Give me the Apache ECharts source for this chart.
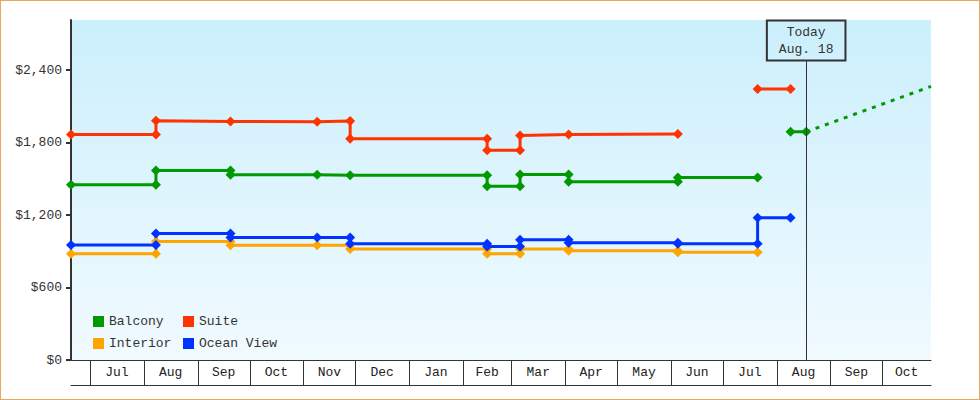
<!DOCTYPE html>
<html>
<head>
<meta charset="utf-8">
<script src="https://cdn.jsdelivr.net/npm/echarts@6/dist/echarts.min.js"></script>
<style>
html, body { margin: 0; padding: 0; background: #ffffff; }
#chart { position: absolute; left: 0; top: 0; width: 980px; height: 400px; }
#frame { position: absolute; left: 0; top: 0; width: 980px; height: 400px; box-sizing: border-box; border: 1px solid #E8A860; pointer-events: none; z-index: 10; }
</style>
</head>
<body>
<div id="chart"></div>
<div id="frame"></div>
<script>
// ---- data ----
const xStart = '2022-06-20';
const xEnd = '2023-10-29';
const today = '2023-08-18';
const todayLabel = 'Today\nAug. 18';

const monthStarts = ['2022-07-01','2022-08-01','2022-09-01','2022-10-01','2022-11-01','2022-12-01',
  '2023-01-01','2023-02-01','2023-03-01','2023-04-01','2023-05-01','2023-06-01','2023-07-01',
  '2023-08-01','2023-09-01','2023-10-01'];
const monthLabels = ['Jul','Aug','Sep','Oct','Nov','Dec','Jan','Feb','Mar','Apr','May','Jun','Jul','Aug','Sep','Oct'];

const yTicks = [0, 600, 1200, 1800, 2400];
const yMax = 2815;

const balcony = [
  ['2022-06-20',1450],['2022-08-08',1450],['2022-08-08',1568],['2022-09-20',1568],['2022-09-20',1533],
  ['2022-11-09',1533],['2022-11-28',1530],['2023-02-15',1530],['2023-02-15',1438],['2023-03-06',1438],
  ['2023-03-06',1535],['2023-04-03',1535],['2023-04-03',1475],['2023-06-05',1475],['2023-06-05',1510],
  ['2023-07-21',1510],['2023-07-30','-'],['2023-08-09',1889],['2023-08-18',1889]
];
const balconyForecast = [['2023-08-18',1889],['2023-10-29',2265]];
const suite = [
  ['2022-06-20',1868],['2022-08-08',1868],['2022-08-08',1980],['2022-09-20',1975],['2022-11-09',1972],
  ['2022-11-28',1978],['2022-11-28',1832],['2023-02-15',1832],['2023-02-15',1736],['2023-03-06',1736],
  ['2023-03-06',1858],['2023-04-03',1868],['2023-06-05',1872],['2023-07-01','-'],['2023-07-21',2244],
  ['2023-08-09',2244]
];
const interior = [
  ['2022-06-20',879],['2022-08-08',879],['2022-08-08',981],['2022-09-20',981],['2022-09-20',950],
  ['2022-11-09',950],['2022-11-28',950],['2022-11-28',920],['2023-02-15',920],['2023-02-15',879],
  ['2023-03-06',879],['2023-03-06',920],['2023-04-03',920],['2023-04-03',904],['2023-06-05',904],
  ['2023-06-05',892],['2023-07-21',892]
];
const oceanView = [
  ['2022-06-20',953],['2022-08-08',953],['2022-08-08',1047],['2022-09-20',1047],['2022-09-20',1014],
  ['2022-11-09',1014],['2022-11-28',1014],['2022-11-28',962],['2023-02-15',962],['2023-02-15',939],
  ['2023-03-06',939],['2023-03-06',995],['2023-04-03',995],['2023-04-03',970],['2023-06-05',970],
  ['2023-06-05',962],['2023-07-21',962],['2023-07-21',1177],['2023-08-09',1177]
];

// ---- helpers ----
function ts(s) { const p = s.split('-').map(Number); return new Date(p[0], p[1] - 1, p[2]).getTime(); }
function toPts(arr) { return arr.map(d => [ts(d[0]), d[1]]); }

const FONT = '"Liberation Mono", "DejaVu Sans Mono", monospace';
const AXIS = '#333333';
const colors = { Balcony: '#009900', Suite: '#FF3300', Interior: '#FFA500', 'Ocean View': '#0033FF' };

const monthCells = monthStarts.map((m, i) => [ts(m), i + 1 < monthStarts.length ? ts(monthStarts[i + 1]) : ts(xEnd)]);
const todayBoxValue = 2480; // data height where the "Today" box sits

function lineSeries(name, data) {
  return {
    name: name, type: 'line', data: toPts(data),
    xAxisIndex: 0, yAxisIndex: 0,
    symbol: 'diamond', symbolSize: 10, showSymbol: true, showAllSymbol: true,
    connectNulls: false,
    lineStyle: { color: colors[name], width: 3 },
    itemStyle: { color: colors[name] },
    emphasis: { disabled: true }
  };
}

const chart = echarts.init(document.getElementById('chart'), null, { renderer: 'svg' });
chart.setOption({
  animation: false,
  backgroundColor: 'transparent',
  grid: [
    { left: 71, right: 49, top: 20, height: 340, show: true, borderWidth: 0,
      backgroundColor: new echarts.graphic.LinearGradient(0, 0, 0, 1, [
        { offset: 0, color: '#CBEFFC' }, { offset: 1, color: '#F1FAFF' }]) },
    { left: 71, right: 49, top: 360, height: 25 }
  ],
  xAxis: [
    { type: 'time', gridIndex: 0, min: ts(xStart), max: ts(xEnd),
      axisLine: { show: true, onZero: false, lineStyle: { color: AXIS, width: 1 } },
      axisTick: { show: false }, axisLabel: { show: false }, splitLine: { show: false } },
    { type: 'time', gridIndex: 1, min: ts(xStart), max: ts(xEnd), position: 'bottom',
      axisLine: { show: true, onZero: false, lineStyle: { color: AXIS, width: 1 } },
      axisTick: { show: false }, axisLabel: { show: false }, splitLine: { show: false } }
  ],
  yAxis: [
    { type: 'value', gridIndex: 0, min: 0, max: yMax,
      axisLine: { show: true, lineStyle: { color: AXIS, width: 2 } },
      axisTick: { show: true, length: 5, customValues: yTicks, lineStyle: { color: AXIS, width: 2 } },
      axisLabel: { show: true, customValues: yTicks, margin: 9, color: '#333', fontFamily: FONT, fontSize: 13,
        formatter: v => '$' + Number(v).toLocaleString('en-US') },
      splitLine: { show: false } },
    { type: 'value', gridIndex: 1, min: 0, max: 1, show: false }
  ],
  legend: [
    { data: ['Balcony', 'Interior'], orient: 'vertical', left: 93, top: 315, itemGap: 9,
      itemWidth: 11, itemHeight: 11, icon: 'rect', padding: 0,
      textStyle: { fontFamily: FONT, fontSize: 13, color: '#333' }, selectedMode: false },
    { data: ['Suite', 'Ocean View'], orient: 'vertical', left: 183, top: 315, itemGap: 9,
      itemWidth: 11, itemHeight: 11, icon: 'rect', padding: 0,
      textStyle: { fontFamily: FONT, fontSize: 13, color: '#333' }, selectedMode: false }
  ],
  series: [
    lineSeries('Balcony', balcony),
    lineSeries('Suite', suite),
    lineSeries('Interior', interior),
    lineSeries('Ocean View', oceanView),
    {
      name: 'Balcony forecast', type: 'line', data: toPts(balconyForecast),
      xAxisIndex: 0, yAxisIndex: 0, showSymbol: false, symbol: 'none',
      lineStyle: { color: colors.Balcony, width: 3, type: [4, 6] },
      emphasis: { disabled: true }, z: 1,
      markLine: {
        silent: true, symbol: ['none', 'none'], animation: false,
        lineStyle: { color: AXIS, width: 1, type: 'solid' },
        label: { show: true, position: 'end', distance: 0, formatter: todayLabel,
          fontFamily: FONT, fontSize: 13, lineHeight: 17, color: '#333',
          padding: [4, 12, 2, 12], borderColor: AXIS, borderWidth: 1, backgroundColor: 'transparent' },
        emphasis: { disabled: true },
        data: [[{ coord: [ts(today), 0] }, { coord: [ts(today), todayBoxValue] }]]
      }
    },
    {
      name: 'months', type: 'custom', xAxisIndex: 1, yAxisIndex: 1, clip: false, silent: true,
      data: monthCells, encode: { x: [0, 1] },
      renderItem: function (params, api) {
        const i = params.dataIndex;
        const s = api.coord([api.value(0), 1]);
        const e = api.coord([api.value(1), 0]);
        const x = Math.round(s[0]) + 0.5;
        return { type: 'group', children: [
          { type: 'line', shape: { x1: x, y1: s[1], x2: x, y2: e[1] }, style: { stroke: AXIS, lineWidth: 1 } },
          { type: 'text', style: { text: monthLabels[i], x: (s[0] + e[0]) / 2, y: (s[1] + e[1]) / 2,
            align: 'center', verticalAlign: 'middle', fontFamily: FONT, fontSize: 13, fill: '#222' } }
        ] };
      }
    }
  ]
});
</script>
</body>
</html>
